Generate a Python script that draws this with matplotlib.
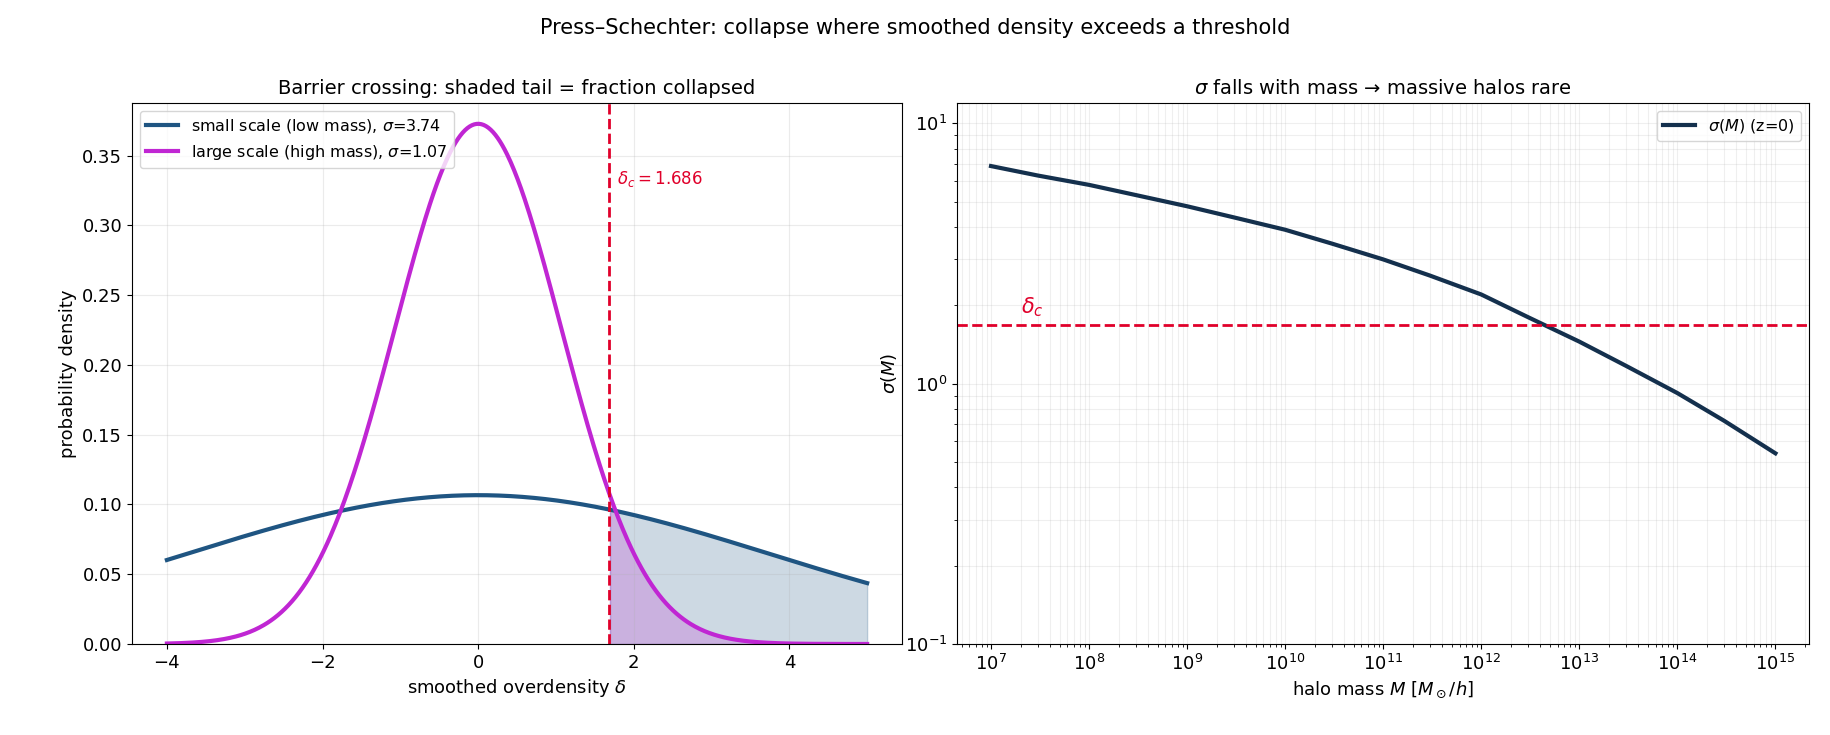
import numpy as np
import matplotlib
matplotlib.use("Agg")
import matplotlib.pyplot as plt

delta_c = 1.686
sigmas = [3.74, 1.07]
labels = ["small scale (low mass), $\\sigma$=3.74", "large scale (high mass), $\\sigma$=1.07"]
colors = ["#1f5582", "#c026d3"]
fills = ["#1f5582", "#c026d3"]

mass = [1e7, 3e7, 1e8, 3e8, 1e9, 3e9, 1e10, 3e10, 1e11, 3e11, 1e12, 3e12, 1e13, 3e13, 1e14, 3e14, 1e15]
sigma_M = [6.85, 6.3, 5.8, 5.3, 4.8, 4.35, 3.9, 3.45, 3.0, 2.6, 2.2, 1.8, 1.45, 1.17, 0.92, 0.72, 0.54]

W, H = 1568, 630
fig = plt.figure(figsize=(18.3, 7.35), dpi=100)
fig.suptitle("Press–Schechter: collapse where smoothed density exceeds a threshold", fontsize=15, y=0.975)
ax1 = fig.add_axes([113/W, 1-552/H, 660/W, 464/H])
ax2 = fig.add_axes([820/W, 1-552/H, 730/W, 464/H])

x = np.linspace(-4, 5, 600)
for s, lab, c, fc in zip(sigmas, labels, colors, fills):
    y = np.exp(-x**2/(2*s*s))/(np.sqrt(2*np.pi)*s)
    ax1.plot(x, y, color=c, lw=3, label=lab)
    m = x >= delta_c
    ax1.fill_between(x[m], 0, y[m], color=fc, alpha=0.22)
ax1.axvline(delta_c, color="#e0002a", ls="--", lw=2)
ax1.text(delta_c + 0.1, 0.33, "$\\delta_c = 1.686$", color="#e0002a", fontsize=12)
ax1.set_xlim(-4.45, 5.45)
ax1.set_ylim(0, 0.388)
ax1.set_xlabel("smoothed overdensity $\\delta$", fontsize=13)
ax1.set_ylabel("probability density", fontsize=13)
ax1.set_title("Barrier crossing: shaded tail = fraction collapsed", fontsize=14)
ax1.grid(alpha=0.25)
ax1.legend(loc="upper left", fontsize=11.5)
ax1.tick_params(labelsize=13)

ax2.loglog(mass, sigma_M, color="#14304d", lw=3, label="$\\sigma(M)$ (z=0)")
ax2.axhline(delta_c, color="#e0002a", ls="--", lw=2)
ax2.text(2e7, 1.86, "$\\delta_c$", color="#e0002a", fontsize=15)
ax2.set_xlim(4.5e6, 2.2e15)
ax2.set_ylim(0.1, 12)
ax2.set_xlabel("halo mass $M$ [$M_\\odot/h$]", fontsize=13)
ax2.set_ylabel("$\\sigma(M)$", fontsize=13)
ax2.set_title("$\\sigma$ falls with mass → massive halos rare", fontsize=14)
ax2.grid(which="both", alpha=0.2)
ax2.legend(loc="upper right", fontsize=11.5)
ax2.tick_params(labelsize=13)

fig.savefig("out.png", dpi=100)
